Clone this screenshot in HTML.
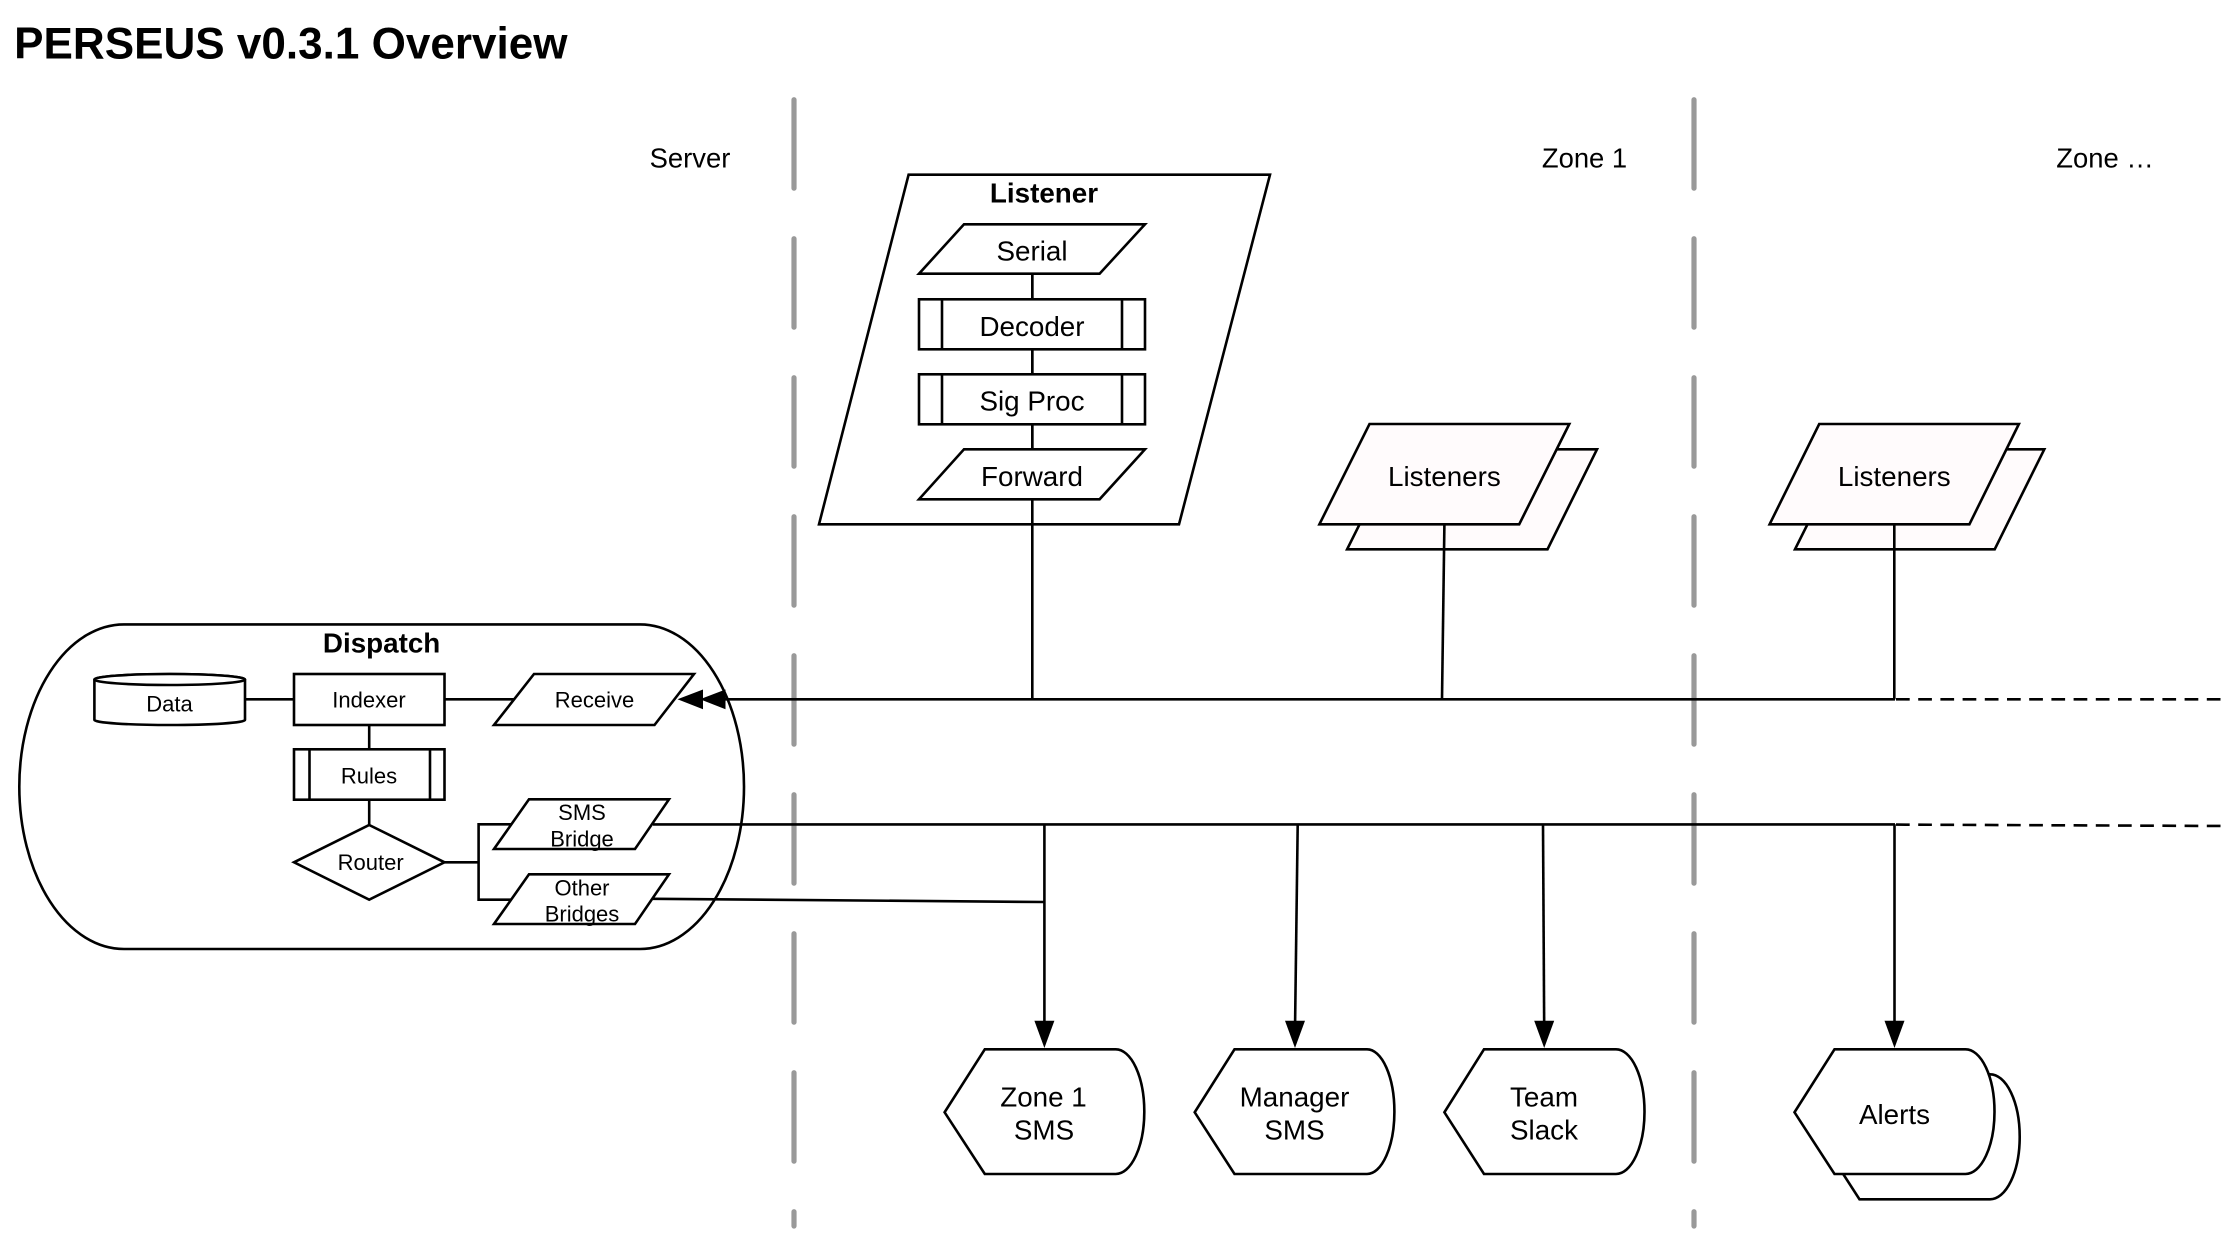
<!DOCTYPE html>
<html lang="en">
<head>
<meta charset="utf-8">
<title>PERSEUS v0.3.1 Overview</title>
<style>
html,body{margin:0;padding:0;background:#fff;width:2224px;height:1233px;overflow:hidden}
svg{display:block}
text{font-family:"Liberation Sans",Arial,Helvetica,sans-serif;fill:#000;text-anchor:middle}
.s{fill:#fff;stroke:#000;stroke-width:2.6;stroke-linejoin:miter}
.p{fill:#fffbfc;stroke:#000;stroke-width:2.6;stroke-linejoin:miter}
.l{fill:none;stroke:#000;stroke-width:2.6}
.g{fill:none;stroke:#999;stroke-width:5.2;stroke-linecap:round;stroke-dasharray:88.5 50.5}
.b{font-weight:bold}
.m{font-size:27.8px}
.z{font-size:27.4px}
.n{font-size:22px}
</style>
</head>
<body>
<svg xmlns="http://www.w3.org/2000/svg" width="2224" height="1233" viewBox="0 0 2224 1233">
<rect width="2224" height="1233" fill="#fff"/>

<text x="290.8" y="58.5" class="b" font-size="44.05">PERSEUS v0.3.1 Overview</text>
<text x="690" y="167.7" class="z">Server</text>
<text x="1584.5" y="167.7" class="z">Zone 1</text>
<text x="2105" y="167.7" class="z">Zone …</text>

<line class="g" x1="794" y1="99.7" x2="794" y2="1226"/>
<line class="g" x1="1694" y1="99.7" x2="1694" y2="1226"/>

<!-- Dispatch -->
<path class="s" d="M124 624.4 L640 624.4 A104 162.3 0 0 1 744 786.7 A104 162.3 0 0 1 640 949 L124 949 A104.7 162.3 0 0 1 19.3 786.7 A104.7 162.3 0 0 1 124 624.4 Z"/>
<text x="381.6" y="652.3" class="b m">Dispatch</text>

<!-- Listener -->
<polygon class="s" points="908.6,174.7 1270,174.7 1179,524.3 819,524.3"/>
<text x="1044" y="202.7" class="b m">Listener</text>

<!-- Listeners stacks -->
<polygon class="p" points="1397,449.3 1597,449.3 1547.5,549.3 1347.1,549.3"/>
<polygon class="p" points="1369.5,424 1569.3,424 1519.2,524.3 1319.4,524.3"/>
<text x="1444.4" y="486" class="m">Listeners</text>
<polygon class="p" points="1845,449.3 2044.3,449.3 1994.7,549.3 1795,549.3"/>
<polygon class="p" points="1819.2,424 2018.9,424 1969.4,524.3 1769.6,524.3"/>
<text x="1894.3" y="486" class="m">Listeners</text>

<!-- Connectors -->
<line class="l" x1="1032.3" y1="274" x2="1032.3" y2="699.3"/>
<line class="l" x1="1444.4" y1="524.3" x2="1442" y2="699.3"/>
<line class="l" x1="1894.3" y1="524.3" x2="1894.3" y2="699.3"/>
<line class="l" x1="720" y1="699.3" x2="1895" y2="699.3"/>
<line class="l" x1="1896" y1="699.3" x2="2224" y2="699.3" stroke-dasharray="13.7 8.5"/>
<line class="l" x1="245" y1="699.3" x2="294" y2="699.3"/>
<line class="l" x1="444.5" y1="699.3" x2="515" y2="699.3"/>
<line class="l" x1="369.2" y1="725" x2="369.2" y2="749.3"/>
<line class="l" x1="369.2" y1="799.7" x2="369.2" y2="825"/>
<polyline class="l" points="444.5,862.3 478.6,862.3"/>
<polyline class="l" points="511,824.3 478.6,824.3 478.6,899.7 511,899.7"/>
<line class="l" x1="653" y1="824.4" x2="1895" y2="824.4"/>
<line class="l" x1="1896" y1="824.6" x2="2224" y2="826" stroke-dasharray="13.7 8.5"/>
<line class="l" x1="653" y1="898.8" x2="1044.4" y2="902"/>
<line class="l" x1="1044.4" y1="824.3" x2="1044.4" y2="1030"/>
<line class="l" x1="1297.7" y1="824.3" x2="1295" y2="1030"/>
<line class="l" x1="1543" y1="824.3" x2="1544.2" y2="1030"/>
<line class="l" x1="1894.5" y1="824.3" x2="1894.5" y2="1030"/>

<!-- Dispatch nodes -->
<path class="s" d="M94.4 679.5 A75.3 5.5 0 0 1 245 679.5 L245 720 A75.3 5 0 0 1 94.4 720 Z"/>
<ellipse class="s" cx="169.7" cy="679.5" rx="75.3" ry="5.5"/>
<text x="169.5" y="711.4" class="n">Data</text>
<rect class="s" x="294" y="674" width="150.5" height="51"/>
<text x="369" y="707.7" class="n">Indexer</text>
<polygon class="s" points="534,674 694,674 654.5,725 494,725"/>
<text x="594.5" y="707.7" class="n">Receive</text>
<rect class="s" x="294" y="749.3" width="150.5" height="50.4"/>
<line class="l" x1="309.5" y1="749.3" x2="309.5" y2="799.7"/>
<line class="l" x1="430" y1="749.3" x2="430" y2="799.7"/>
<text x="369" y="783.4" class="n">Rules</text>
<polygon class="s" points="369.2,825 444.5,862.3 369.2,899.7 294,862.3"/>
<text x="370.7" y="870" class="n">Router</text>
<polygon class="s" points="529,799.3 669,799.3 635,849 494,849"/>
<text x="582" y="820" class="n">SMS</text>
<text x="582" y="846.4" class="n">Bridge</text>
<polygon class="s" points="529,874.3 669,874.3 635,924 494,924"/>
<text x="582" y="895.4" class="n">Other</text>
<text x="582" y="921.7" class="n">Bridges</text>

<!-- Double arrowhead -->
<polygon points="677.5,699.3 703,689.5 703,709.3" fill="#000"/>
<polygon points="700,699.3 725.5,689.5 725.5,709.3" fill="#000"/>

<!-- Listener nodes -->
<polygon class="s" points="964,224.3 1145,224.3 1099.6,273.7 919,273.7"/>
<text x="1032" y="260.5" class="m">Serial</text>
<line class="l" x1="1032.3" y1="274" x2="1032.3" y2="299.3"/>
<rect class="s" x="919" y="299.3" width="226" height="50"/>
<line class="l" x1="942" y1="299.3" x2="942" y2="349.3"/>
<line class="l" x1="1122" y1="299.3" x2="1122" y2="349.3"/>
<text x="1032" y="335.9" class="m">Decoder</text>
<line class="l" x1="1032.3" y1="349.3" x2="1032.3" y2="374.3"/>
<rect class="s" x="919" y="374.3" width="226" height="50"/>
<line class="l" x1="942" y1="374.3" x2="942" y2="424.3"/>
<line class="l" x1="1122" y1="374.3" x2="1122" y2="424.3"/>
<text x="1032" y="410.4" class="m">Sig Proc</text>
<line class="l" x1="1032.3" y1="424.3" x2="1032.3" y2="449.3"/>
<polygon class="s" points="964,449.3 1145,449.3 1099.6,499.3 919,499.3"/>
<text x="1032" y="486" class="m">Forward</text>

<!-- Displays -->
<path class="s" d="M984.8 1049.3 L1115.7 1049.3 A28.6 62.4 0 0 1 1144.3 1111.7 A28.6 62.4 0 0 1 1115.7 1174 L984.8 1174 L944.6 1112.3 Z"/>
<text x="1043.5" y="1106.7" class="m">Zone 1</text>
<text x="1044" y="1139.3" class="m">SMS</text>
<path class="s" d="M1234.5 1049.3 L1367 1049.3 A27.4 62.4 0 0 1 1394.4 1111.7 A27.4 62.4 0 0 1 1367 1174 L1234.5 1174 L1194.7 1112.3 Z"/>
<text x="1294.5" y="1106.7" class="m">Manager</text>
<text x="1294.5" y="1139.3" class="m">SMS</text>
<path class="s" d="M1484 1049.3 L1616 1049.3 A28.5 62.4 0 0 1 1644.5 1111.7 A28.5 62.4 0 0 1 1616 1174 L1484 1174 L1444.4 1112.3 Z"/>
<text x="1544" y="1106.7" class="m">Team</text>
<text x="1544" y="1139.3" class="m">Slack</text>
<path class="s" d="M1859.5 1074.3 L1990 1074.3 A29.7 62.4 0 0 1 2019.7 1136.7 A29.7 62.4 0 0 1 1990 1199.3 L1859.5 1199.3 L1819.5 1137.3 Z"/>
<path class="s" d="M1834.5 1049.3 L1965.5 1049.3 A29 62.4 0 0 1 1994.5 1111.7 A29 62.4 0 0 1 1965.5 1174 L1834.5 1174 L1794.5 1112.3 Z"/>
<text x="1894.5" y="1124" class="m">Alerts</text>

<!-- Arrowheads -->
<polygon points="1044.4,1048 1034.4,1020.7 1054.4,1020.7" fill="#000"/>
<polygon points="1295,1048 1285,1020.7 1305,1020.7" fill="#000"/>
<polygon points="1544.2,1048 1534.2,1020.7 1554.2,1020.7" fill="#000"/>
<polygon points="1894.5,1048 1884.5,1020.7 1904.5,1020.7" fill="#000"/>
</svg>
</body>
</html>
